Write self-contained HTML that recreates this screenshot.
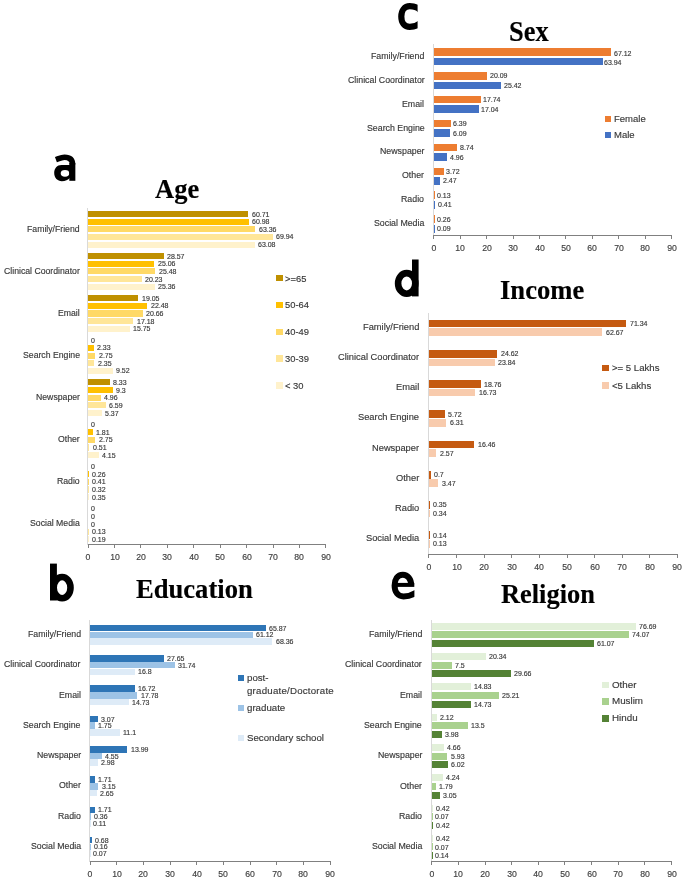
<!DOCTYPE html>
<html><head><meta charset="utf-8"><style>
html,body{margin:0;padding:0;background:#fff;}
body{width:685px;height:884px;position:relative;overflow:hidden;font-family:"Liberation Sans", sans-serif;}
.r{position:absolute;}
.t{position:absolute;white-space:nowrap;line-height:1;will-change:transform;-webkit-text-stroke:0.15px currentColor;}
#w{position:absolute;left:0;top:0;width:685px;height:884px;background:#fff;filter:blur(0.35px);}
</style></head><body><div id="w">
<div class="r" style="left:87.3px;top:208px;width:0.8px;height:336.6px;background:#d9d9d9"></div>
<div class="r" style="left:87.6px;top:544.1px;width:238.78px;height:1px;background:#808080"></div>
<div class="r" style="left:87.6px;top:544.6px;width:1px;height:3px;background:#808080"></div>
<div class="t" style="left:88.1px;top:552.91px;font-size:8.7px;color:#404040;transform:translateX(-50%);">0</div>
<div class="r" style="left:114.02px;top:544.6px;width:1px;height:3px;background:#808080"></div>
<div class="t" style="left:114.52px;top:552.91px;font-size:8.7px;color:#404040;transform:translateX(-50%);">10</div>
<div class="r" style="left:140.44px;top:544.6px;width:1px;height:3px;background:#808080"></div>
<div class="t" style="left:140.94px;top:552.91px;font-size:8.7px;color:#404040;transform:translateX(-50%);">20</div>
<div class="r" style="left:166.86px;top:544.6px;width:1px;height:3px;background:#808080"></div>
<div class="t" style="left:167.36px;top:552.91px;font-size:8.7px;color:#404040;transform:translateX(-50%);">30</div>
<div class="r" style="left:193.28px;top:544.6px;width:1px;height:3px;background:#808080"></div>
<div class="t" style="left:193.78px;top:552.91px;font-size:8.7px;color:#404040;transform:translateX(-50%);">40</div>
<div class="r" style="left:219.7px;top:544.6px;width:1px;height:3px;background:#808080"></div>
<div class="t" style="left:220.2px;top:552.91px;font-size:8.7px;color:#404040;transform:translateX(-50%);">50</div>
<div class="r" style="left:246.12px;top:544.6px;width:1px;height:3px;background:#808080"></div>
<div class="t" style="left:246.62px;top:552.91px;font-size:8.7px;color:#404040;transform:translateX(-50%);">60</div>
<div class="r" style="left:272.54px;top:544.6px;width:1px;height:3px;background:#808080"></div>
<div class="t" style="left:273.04px;top:552.91px;font-size:8.7px;color:#404040;transform:translateX(-50%);">70</div>
<div class="r" style="left:298.96px;top:544.6px;width:1px;height:3px;background:#808080"></div>
<div class="t" style="left:299.46px;top:552.91px;font-size:8.7px;color:#404040;transform:translateX(-50%);">80</div>
<div class="r" style="left:325.38px;top:544.6px;width:1px;height:3px;background:#808080"></div>
<div class="t" style="left:325.88px;top:552.91px;font-size:8.7px;color:#404040;transform:translateX(-50%);">90</div>
<div class="t" style="right:605.5px;top:224.51px;font-size:8.7px;color:#383838;text-align:right;">Family/Friend</div>
<div class="r" style="left:88.1px;top:210.9px;width:160.4px;height:6.2px;background:#BF9000"></div>
<div class="t" style="left:251.7px;top:210.53px;font-size:7px;color:#383838;transform:scaleX(1.0);transform-origin:0 0;">60.71</div>
<div class="r" style="left:88.1px;top:218.55px;width:161.11px;height:6.2px;background:#FFC000"></div>
<div class="t" style="left:252.41px;top:218.18px;font-size:7px;color:#383838;transform:scaleX(1.0);transform-origin:0 0;">60.98</div>
<div class="r" style="left:88.1px;top:226.2px;width:167.4px;height:6.2px;background:#FFD966"></div>
<div class="t" style="left:258.7px;top:225.83px;font-size:7px;color:#383838;transform:scaleX(1.0);transform-origin:0 0;">63.36</div>
<div class="r" style="left:88.1px;top:233.85px;width:184.78px;height:6.2px;background:#FFE699"></div>
<div class="t" style="left:276.08px;top:233.48px;font-size:7px;color:#383838;transform:scaleX(1.0);transform-origin:0 0;">69.94</div>
<div class="r" style="left:88.1px;top:241.5px;width:166.66px;height:6.2px;background:#FFF2CC"></div>
<div class="t" style="left:257.96px;top:241.13px;font-size:7px;color:#383838;transform:scaleX(1.0);transform-origin:0 0;">63.08</div>
<div class="t" style="right:605.5px;top:266.61px;font-size:8.7px;color:#383838;text-align:right;">Clinical Coordinator</div>
<div class="r" style="left:88.1px;top:253px;width:75.48px;height:6.2px;background:#BF9000"></div>
<div class="t" style="left:166.78px;top:252.63px;font-size:7px;color:#383838;transform:scaleX(1.0);transform-origin:0 0;">28.57</div>
<div class="r" style="left:88.1px;top:260.65px;width:66.21px;height:6.2px;background:#FFC000"></div>
<div class="t" style="left:157.51px;top:260.28px;font-size:7px;color:#383838;transform:scaleX(1.0);transform-origin:0 0;">25.06</div>
<div class="r" style="left:88.1px;top:268.3px;width:67.32px;height:6.2px;background:#FFD966"></div>
<div class="t" style="left:158.62px;top:267.93px;font-size:7px;color:#383838;transform:scaleX(1.0);transform-origin:0 0;">25.48</div>
<div class="r" style="left:88.1px;top:275.95px;width:53.45px;height:6.2px;background:#FFE699"></div>
<div class="t" style="left:144.75px;top:275.58px;font-size:7px;color:#383838;transform:scaleX(1.0);transform-origin:0 0;">20.23</div>
<div class="r" style="left:88.1px;top:283.6px;width:67px;height:6.2px;background:#FFF2CC"></div>
<div class="t" style="left:158.3px;top:283.23px;font-size:7px;color:#383838;transform:scaleX(1.0);transform-origin:0 0;">25.36</div>
<div class="t" style="right:605.5px;top:308.71px;font-size:8.7px;color:#383838;text-align:right;">Email</div>
<div class="r" style="left:88.1px;top:295.1px;width:50.33px;height:6.2px;background:#BF9000"></div>
<div class="t" style="left:141.63px;top:294.73px;font-size:7px;color:#383838;transform:scaleX(1.0);transform-origin:0 0;">19.05</div>
<div class="r" style="left:88.1px;top:302.75px;width:59.39px;height:6.2px;background:#FFC000"></div>
<div class="t" style="left:150.69px;top:302.38px;font-size:7px;color:#383838;transform:scaleX(1.0);transform-origin:0 0;">22.48</div>
<div class="r" style="left:88.1px;top:310.4px;width:54.58px;height:6.2px;background:#FFD966"></div>
<div class="t" style="left:145.88px;top:310.03px;font-size:7px;color:#383838;transform:scaleX(1.0);transform-origin:0 0;">20.66</div>
<div class="r" style="left:88.1px;top:318.05px;width:45.39px;height:6.2px;background:#FFE699"></div>
<div class="t" style="left:136.69px;top:317.68px;font-size:7px;color:#383838;transform:scaleX(1.0);transform-origin:0 0;">17.18</div>
<div class="r" style="left:88.1px;top:325.7px;width:41.61px;height:6.2px;background:#FFF2CC"></div>
<div class="t" style="left:132.91px;top:325.33px;font-size:7px;color:#383838;transform:scaleX(1.0);transform-origin:0 0;">15.75</div>
<div class="t" style="right:605.5px;top:350.81px;font-size:8.7px;color:#383838;text-align:right;">Search Engine</div>
<div class="t" style="left:91.3px;top:336.83px;font-size:7px;color:#383838;transform:scaleX(1.0);transform-origin:0 0;">0</div>
<div class="r" style="left:88.1px;top:344.85px;width:6.16px;height:6.2px;background:#FFC000"></div>
<div class="t" style="left:97.46px;top:344.48px;font-size:7px;color:#383838;transform:scaleX(1.0);transform-origin:0 0;">2.33</div>
<div class="r" style="left:88.1px;top:352.5px;width:7.27px;height:6.2px;background:#FFD966"></div>
<div class="t" style="left:98.57px;top:352.13px;font-size:7px;color:#383838;transform:scaleX(1.0);transform-origin:0 0;">2.75</div>
<div class="r" style="left:88.1px;top:360.15px;width:6.21px;height:6.2px;background:#FFE699"></div>
<div class="t" style="left:97.51px;top:359.78px;font-size:7px;color:#383838;transform:scaleX(1.0);transform-origin:0 0;">2.35</div>
<div class="r" style="left:88.1px;top:367.8px;width:25.15px;height:6.2px;background:#FFF2CC"></div>
<div class="t" style="left:116.45px;top:367.43px;font-size:7px;color:#383838;transform:scaleX(1.0);transform-origin:0 0;">9.52</div>
<div class="t" style="right:605.5px;top:392.91px;font-size:8.7px;color:#383838;text-align:right;">Newspaper</div>
<div class="r" style="left:88.1px;top:379.3px;width:22.01px;height:6.2px;background:#BF9000"></div>
<div class="t" style="left:113.31px;top:378.93px;font-size:7px;color:#383838;transform:scaleX(1.0);transform-origin:0 0;">8.33</div>
<div class="r" style="left:88.1px;top:386.95px;width:24.57px;height:6.2px;background:#FFC000"></div>
<div class="t" style="left:115.87px;top:386.58px;font-size:7px;color:#383838;transform:scaleX(1.0);transform-origin:0 0;">9.3</div>
<div class="r" style="left:88.1px;top:394.6px;width:13.1px;height:6.2px;background:#FFD966"></div>
<div class="t" style="left:104.4px;top:394.23px;font-size:7px;color:#383838;transform:scaleX(1.0);transform-origin:0 0;">4.96</div>
<div class="r" style="left:88.1px;top:402.25px;width:17.41px;height:6.2px;background:#FFE699"></div>
<div class="t" style="left:108.71px;top:401.88px;font-size:7px;color:#383838;transform:scaleX(1.0);transform-origin:0 0;">6.59</div>
<div class="r" style="left:88.1px;top:409.9px;width:14.19px;height:6.2px;background:#FFF2CC"></div>
<div class="t" style="left:105.49px;top:409.53px;font-size:7px;color:#383838;transform:scaleX(1.0);transform-origin:0 0;">5.37</div>
<div class="t" style="right:605.5px;top:435.01px;font-size:8.7px;color:#383838;text-align:right;">Other</div>
<div class="t" style="left:91.3px;top:421.03px;font-size:7px;color:#383838;transform:scaleX(1.0);transform-origin:0 0;">0</div>
<div class="r" style="left:88.1px;top:429.05px;width:4.78px;height:6.2px;background:#FFC000"></div>
<div class="t" style="left:96.08px;top:428.68px;font-size:7px;color:#383838;transform:scaleX(1.0);transform-origin:0 0;">1.81</div>
<div class="r" style="left:88.1px;top:436.7px;width:7.27px;height:6.2px;background:#FFD966"></div>
<div class="t" style="left:98.57px;top:436.33px;font-size:7px;color:#383838;transform:scaleX(1.0);transform-origin:0 0;">2.75</div>
<div class="r" style="left:88.1px;top:444.35px;width:1.35px;height:6.2px;background:#FFE699"></div>
<div class="t" style="left:92.65px;top:443.98px;font-size:7px;color:#383838;transform:scaleX(1.0);transform-origin:0 0;">0.51</div>
<div class="r" style="left:88.1px;top:452px;width:10.96px;height:6.2px;background:#FFF2CC"></div>
<div class="t" style="left:102.26px;top:451.63px;font-size:7px;color:#383838;transform:scaleX(1.0);transform-origin:0 0;">4.15</div>
<div class="t" style="right:605.5px;top:477.11px;font-size:8.7px;color:#383838;text-align:right;">Radio</div>
<div class="t" style="left:91.3px;top:463.13px;font-size:7px;color:#383838;transform:scaleX(1.0);transform-origin:0 0;">0</div>
<div class="r" style="left:88.1px;top:471.15px;width:0.69px;height:6.2px;background:#FFC000"></div>
<div class="t" style="left:91.99px;top:470.78px;font-size:7px;color:#383838;transform:scaleX(1.0);transform-origin:0 0;">0.26</div>
<div class="r" style="left:88.1px;top:478.8px;width:1.08px;height:6.2px;background:#FFD966"></div>
<div class="t" style="left:92.38px;top:478.43px;font-size:7px;color:#383838;transform:scaleX(1.0);transform-origin:0 0;">0.41</div>
<div class="r" style="left:88.1px;top:486.45px;width:0.85px;height:6.2px;background:#FFE699"></div>
<div class="t" style="left:92.15px;top:486.08px;font-size:7px;color:#383838;transform:scaleX(1.0);transform-origin:0 0;">0.32</div>
<div class="r" style="left:88.1px;top:494.1px;width:0.92px;height:6.2px;background:#FFF2CC"></div>
<div class="t" style="left:92.22px;top:493.73px;font-size:7px;color:#383838;transform:scaleX(1.0);transform-origin:0 0;">0.35</div>
<div class="t" style="right:605.5px;top:519.21px;font-size:8.7px;color:#383838;text-align:right;">Social Media</div>
<div class="t" style="left:91.3px;top:505.23px;font-size:7px;color:#383838;transform:scaleX(1.0);transform-origin:0 0;">0</div>
<div class="t" style="left:91.3px;top:512.88px;font-size:7px;color:#383838;transform:scaleX(1.0);transform-origin:0 0;">0</div>
<div class="t" style="left:91.3px;top:520.53px;font-size:7px;color:#383838;transform:scaleX(1.0);transform-origin:0 0;">0</div>
<div class="r" style="left:88.1px;top:528.55px;width:0.34px;height:6.2px;background:#FFE699"></div>
<div class="t" style="left:91.64px;top:528.18px;font-size:7px;color:#383838;transform:scaleX(1.0);transform-origin:0 0;">0.13</div>
<div class="r" style="left:88.1px;top:536.2px;width:0.5px;height:6.2px;background:#FFF2CC"></div>
<div class="t" style="left:91.8px;top:535.83px;font-size:7px;color:#383838;transform:scaleX(1.0);transform-origin:0 0;">0.19</div>
<div class="r" style="left:276.2px;top:274.8px;width:6.6px;height:6.6px;background:#BF9000"></div>
<div class="t" style="left:285.4px;top:273.57px;font-size:9.4px;color:#383838;">&gt;=65</div>
<div class="r" style="left:276.2px;top:301.7px;width:6.6px;height:6.6px;background:#FFC000"></div>
<div class="t" style="left:285.4px;top:300.47px;font-size:9.4px;color:#383838;">50-64</div>
<div class="r" style="left:276.2px;top:328.6px;width:6.6px;height:6.6px;background:#FFD966"></div>
<div class="t" style="left:285.4px;top:327.37px;font-size:9.4px;color:#383838;">40-49</div>
<div class="r" style="left:276.2px;top:355.1px;width:6.6px;height:6.6px;background:#FFE699"></div>
<div class="t" style="left:285.4px;top:353.87px;font-size:9.4px;color:#383838;">30-39</div>
<div class="r" style="left:276.2px;top:382px;width:6.6px;height:6.6px;background:#FFF2CC"></div>
<div class="t" style="left:285.4px;top:380.77px;font-size:9.4px;color:#383838;">&lt; 30</div>
<div class="r" style="left:89.2px;top:619.7px;width:0.8px;height:242px;background:#d9d9d9"></div>
<div class="r" style="left:89.5px;top:861.2px;width:241.03px;height:1px;background:#808080"></div>
<div class="r" style="left:89.5px;top:861.7px;width:1px;height:3px;background:#808080"></div>
<div class="t" style="left:90px;top:870.11px;font-size:8.7px;color:#404040;transform:translateX(-50%);">0</div>
<div class="r" style="left:116.17px;top:861.7px;width:1px;height:3px;background:#808080"></div>
<div class="t" style="left:116.67px;top:870.11px;font-size:8.7px;color:#404040;transform:translateX(-50%);">10</div>
<div class="r" style="left:142.84px;top:861.7px;width:1px;height:3px;background:#808080"></div>
<div class="t" style="left:143.34px;top:870.11px;font-size:8.7px;color:#404040;transform:translateX(-50%);">20</div>
<div class="r" style="left:169.51px;top:861.7px;width:1px;height:3px;background:#808080"></div>
<div class="t" style="left:170.01px;top:870.11px;font-size:8.7px;color:#404040;transform:translateX(-50%);">30</div>
<div class="r" style="left:196.18px;top:861.7px;width:1px;height:3px;background:#808080"></div>
<div class="t" style="left:196.68px;top:870.11px;font-size:8.7px;color:#404040;transform:translateX(-50%);">40</div>
<div class="r" style="left:222.85px;top:861.7px;width:1px;height:3px;background:#808080"></div>
<div class="t" style="left:223.35px;top:870.11px;font-size:8.7px;color:#404040;transform:translateX(-50%);">50</div>
<div class="r" style="left:249.52px;top:861.7px;width:1px;height:3px;background:#808080"></div>
<div class="t" style="left:250.02px;top:870.11px;font-size:8.7px;color:#404040;transform:translateX(-50%);">60</div>
<div class="r" style="left:276.19px;top:861.7px;width:1px;height:3px;background:#808080"></div>
<div class="t" style="left:276.69px;top:870.11px;font-size:8.7px;color:#404040;transform:translateX(-50%);">70</div>
<div class="r" style="left:302.86px;top:861.7px;width:1px;height:3px;background:#808080"></div>
<div class="t" style="left:303.36px;top:870.11px;font-size:8.7px;color:#404040;transform:translateX(-50%);">80</div>
<div class="r" style="left:329.53px;top:861.7px;width:1px;height:3px;background:#808080"></div>
<div class="t" style="left:330.03px;top:870.11px;font-size:8.7px;color:#404040;transform:translateX(-50%);">90</div>
<div class="t" style="right:604.2px;top:630.03px;font-size:8.75px;color:#383838;text-align:right;">Family/Friend</div>
<div class="r" style="left:90px;top:624.9px;width:175.68px;height:6.5px;background:#2E75B6"></div>
<div class="t" style="left:268.88px;top:624.68px;font-size:7px;color:#383838;transform:scaleX(1.0);transform-origin:0 0;">65.87</div>
<div class="r" style="left:90px;top:631.6px;width:163.01px;height:6.5px;background:#9DC3E6"></div>
<div class="t" style="left:256.21px;top:631.38px;font-size:7px;color:#383838;transform:scaleX(1.0);transform-origin:0 0;">61.12</div>
<div class="r" style="left:90px;top:638.3px;width:182.32px;height:6.5px;background:#DEEBF7"></div>
<div class="t" style="left:275.52px;top:638.08px;font-size:7px;color:#383838;transform:scaleX(1.0);transform-origin:0 0;">68.36</div>
<div class="t" style="right:604.2px;top:660.32px;font-size:8.75px;color:#383838;text-align:right;">Clinical Coordinator</div>
<div class="r" style="left:90px;top:655.19px;width:73.74px;height:6.5px;background:#2E75B6"></div>
<div class="t" style="left:166.94px;top:654.97px;font-size:7px;color:#383838;transform:scaleX(1.0);transform-origin:0 0;">27.65</div>
<div class="r" style="left:90px;top:661.89px;width:84.65px;height:6.5px;background:#9DC3E6"></div>
<div class="t" style="left:177.85px;top:661.67px;font-size:7px;color:#383838;transform:scaleX(1.0);transform-origin:0 0;">31.74</div>
<div class="r" style="left:90px;top:668.59px;width:44.81px;height:6.5px;background:#DEEBF7"></div>
<div class="t" style="left:138.01px;top:668.37px;font-size:7px;color:#383838;transform:scaleX(1.0);transform-origin:0 0;">16.8</div>
<div class="t" style="right:604.2px;top:690.61px;font-size:8.75px;color:#383838;text-align:right;">Email</div>
<div class="r" style="left:90px;top:685.48px;width:44.59px;height:6.5px;background:#2E75B6"></div>
<div class="t" style="left:137.79px;top:685.26px;font-size:7px;color:#383838;transform:scaleX(1.0);transform-origin:0 0;">16.72</div>
<div class="r" style="left:90px;top:692.18px;width:47.42px;height:6.5px;background:#9DC3E6"></div>
<div class="t" style="left:140.62px;top:691.96px;font-size:7px;color:#383838;transform:scaleX(1.0);transform-origin:0 0;">17.78</div>
<div class="r" style="left:90px;top:698.88px;width:39.28px;height:6.5px;background:#DEEBF7"></div>
<div class="t" style="left:132.48px;top:698.66px;font-size:7px;color:#383838;transform:scaleX(1.0);transform-origin:0 0;">14.73</div>
<div class="t" style="right:604.2px;top:720.9px;font-size:8.75px;color:#383838;text-align:right;">Search Engine</div>
<div class="r" style="left:90px;top:715.77px;width:8.19px;height:6.5px;background:#2E75B6"></div>
<div class="t" style="left:101.39px;top:715.55px;font-size:7px;color:#383838;transform:scaleX(1.0);transform-origin:0 0;">3.07</div>
<div class="r" style="left:90px;top:722.47px;width:4.67px;height:6.5px;background:#9DC3E6"></div>
<div class="t" style="left:97.87px;top:722.25px;font-size:7px;color:#383838;transform:scaleX(1.0);transform-origin:0 0;">1.75</div>
<div class="r" style="left:90px;top:729.17px;width:29.6px;height:6.5px;background:#DEEBF7"></div>
<div class="t" style="left:122.8px;top:728.95px;font-size:7px;color:#383838;transform:scaleX(1.0);transform-origin:0 0;">11.1</div>
<div class="t" style="right:604.2px;top:751.19px;font-size:8.75px;color:#383838;text-align:right;">Newspaper</div>
<div class="r" style="left:90px;top:746.06px;width:37.31px;height:6.5px;background:#2E75B6"></div>
<div class="t" style="left:130.51px;top:745.84px;font-size:7px;color:#383838;transform:scaleX(1.0);transform-origin:0 0;">13.99</div>
<div class="r" style="left:90px;top:752.76px;width:12.13px;height:6.5px;background:#9DC3E6"></div>
<div class="t" style="left:105.33px;top:752.54px;font-size:7px;color:#383838;transform:scaleX(1.0);transform-origin:0 0;">4.55</div>
<div class="r" style="left:90px;top:759.46px;width:7.95px;height:6.5px;background:#DEEBF7"></div>
<div class="t" style="left:101.15px;top:759.24px;font-size:7px;color:#383838;transform:scaleX(1.0);transform-origin:0 0;">2.98</div>
<div class="t" style="right:604.2px;top:781.48px;font-size:8.75px;color:#383838;text-align:right;">Other</div>
<div class="r" style="left:90px;top:776.35px;width:4.56px;height:6.5px;background:#2E75B6"></div>
<div class="t" style="left:97.76px;top:776.13px;font-size:7px;color:#383838;transform:scaleX(1.0);transform-origin:0 0;">1.71</div>
<div class="r" style="left:90px;top:783.05px;width:8.4px;height:6.5px;background:#9DC3E6"></div>
<div class="t" style="left:101.6px;top:782.83px;font-size:7px;color:#383838;transform:scaleX(1.0);transform-origin:0 0;">3.15</div>
<div class="r" style="left:90px;top:789.75px;width:7.07px;height:6.5px;background:#DEEBF7"></div>
<div class="t" style="left:100.27px;top:789.53px;font-size:7px;color:#383838;transform:scaleX(1.0);transform-origin:0 0;">2.65</div>
<div class="t" style="right:604.2px;top:811.77px;font-size:8.75px;color:#383838;text-align:right;">Radio</div>
<div class="r" style="left:90px;top:806.64px;width:4.56px;height:6.5px;background:#2E75B6"></div>
<div class="t" style="left:97.76px;top:806.42px;font-size:7px;color:#383838;transform:scaleX(1.0);transform-origin:0 0;">1.71</div>
<div class="r" style="left:90px;top:813.34px;width:0.96px;height:6.5px;background:#9DC3E6"></div>
<div class="t" style="left:94.16px;top:813.12px;font-size:7px;color:#383838;transform:scaleX(1.0);transform-origin:0 0;">0.36</div>
<div class="r" style="left:90px;top:820.04px;width:0.29px;height:6.5px;background:#DEEBF7"></div>
<div class="t" style="left:93.49px;top:819.82px;font-size:7px;color:#383838;transform:scaleX(1.0);transform-origin:0 0;">0.11</div>
<div class="t" style="right:604.2px;top:842.06px;font-size:8.75px;color:#383838;text-align:right;">Social Media</div>
<div class="r" style="left:90px;top:836.93px;width:1.81px;height:6.5px;background:#2E75B6"></div>
<div class="t" style="left:95.01px;top:836.71px;font-size:7px;color:#383838;transform:scaleX(1.0);transform-origin:0 0;">0.68</div>
<div class="r" style="left:90px;top:843.63px;width:0.43px;height:6.5px;background:#9DC3E6"></div>
<div class="t" style="left:93.63px;top:843.41px;font-size:7px;color:#383838;transform:scaleX(1.0);transform-origin:0 0;">0.16</div>
<div class="r" style="left:90px;top:850.33px;width:0.19px;height:6.5px;background:#DEEBF7"></div>
<div class="t" style="left:93.39px;top:850.11px;font-size:7px;color:#383838;transform:scaleX(1.0);transform-origin:0 0;">0.07</div>
<div class="r" style="left:238.1px;top:674.8px;width:6px;height:6px;background:#2E75B6"></div>
<div class="t" style="left:247px;top:672.82px;font-size:9.7px;color:#383838;">post-</div>
<div class="t" style="left:247px;top:685.92px;font-size:9.7px;color:#383838;letter-spacing:0.22px;">graduate/Doctorate</div>
<div class="r" style="left:238.1px;top:705px;width:6px;height:6px;background:#9DC3E6"></div>
<div class="t" style="left:247px;top:702.52px;font-size:9.7px;color:#383838;">graduate</div>
<div class="r" style="left:238.1px;top:734.5px;width:6px;height:6px;background:#DEEBF7"></div>
<div class="t" style="left:247px;top:732.62px;font-size:9.7px;color:#383838;">Secondary school</div>
<div class="r" style="left:433.1px;top:44.4px;width:0.8px;height:191.5px;background:#d9d9d9"></div>
<div class="r" style="left:433.4px;top:235.4px;width:238.6px;height:1px;background:#808080"></div>
<div class="r" style="left:433.4px;top:235.9px;width:1px;height:3px;background:#808080"></div>
<div class="t" style="left:433.9px;top:244.11px;font-size:8.7px;color:#404040;transform:translateX(-50%);">0</div>
<div class="r" style="left:459.8px;top:235.9px;width:1px;height:3px;background:#808080"></div>
<div class="t" style="left:460.3px;top:244.11px;font-size:8.7px;color:#404040;transform:translateX(-50%);">10</div>
<div class="r" style="left:486.2px;top:235.9px;width:1px;height:3px;background:#808080"></div>
<div class="t" style="left:486.7px;top:244.11px;font-size:8.7px;color:#404040;transform:translateX(-50%);">20</div>
<div class="r" style="left:512.6px;top:235.9px;width:1px;height:3px;background:#808080"></div>
<div class="t" style="left:513.1px;top:244.11px;font-size:8.7px;color:#404040;transform:translateX(-50%);">30</div>
<div class="r" style="left:539px;top:235.9px;width:1px;height:3px;background:#808080"></div>
<div class="t" style="left:539.5px;top:244.11px;font-size:8.7px;color:#404040;transform:translateX(-50%);">40</div>
<div class="r" style="left:565.4px;top:235.9px;width:1px;height:3px;background:#808080"></div>
<div class="t" style="left:565.9px;top:244.11px;font-size:8.7px;color:#404040;transform:translateX(-50%);">50</div>
<div class="r" style="left:591.8px;top:235.9px;width:1px;height:3px;background:#808080"></div>
<div class="t" style="left:592.3px;top:244.11px;font-size:8.7px;color:#404040;transform:translateX(-50%);">60</div>
<div class="r" style="left:618.2px;top:235.9px;width:1px;height:3px;background:#808080"></div>
<div class="t" style="left:618.7px;top:244.11px;font-size:8.7px;color:#404040;transform:translateX(-50%);">70</div>
<div class="r" style="left:644.6px;top:235.9px;width:1px;height:3px;background:#808080"></div>
<div class="t" style="left:645.1px;top:244.11px;font-size:8.7px;color:#404040;transform:translateX(-50%);">80</div>
<div class="r" style="left:671px;top:235.9px;width:1px;height:3px;background:#808080"></div>
<div class="t" style="left:671.5px;top:244.11px;font-size:8.7px;color:#404040;transform:translateX(-50%);">90</div>
<div class="t" style="right:260.7px;top:51.81px;font-size:8.8px;color:#383838;text-align:right;">Family/Friend</div>
<div class="r" style="left:433.9px;top:48px;width:177.2px;height:7.7px;background:#ED7D31"></div>
<div class="t" style="left:614.1px;top:49.58px;font-size:7px;color:#383838;transform:scaleX(1.0);transform-origin:0 0;">67.12</div>
<div class="r" style="left:433.9px;top:57.6px;width:168.8px;height:7.7px;background:#4472C4"></div>
<div class="t" style="left:603.8px;top:59.28px;font-size:7px;color:#383838;transform:scaleX(1.0);transform-origin:0 0;">63.94</div>
<div class="t" style="right:260.7px;top:75.71px;font-size:8.8px;color:#383838;text-align:right;">Clinical Coordinator</div>
<div class="r" style="left:433.9px;top:71.9px;width:53.04px;height:7.7px;background:#ED7D31"></div>
<div class="t" style="left:489.54px;top:72.28px;font-size:7px;color:#383838;transform:scaleX(1.0);transform-origin:0 0;">20.09</div>
<div class="r" style="left:433.9px;top:81.5px;width:67.11px;height:7.7px;background:#4472C4"></div>
<div class="t" style="left:503.61px;top:81.88px;font-size:7px;color:#383838;transform:scaleX(1.0);transform-origin:0 0;">25.42</div>
<div class="t" style="right:260.7px;top:99.61px;font-size:8.8px;color:#383838;text-align:right;">Email</div>
<div class="r" style="left:433.9px;top:95.8px;width:46.83px;height:7.7px;background:#ED7D31"></div>
<div class="t" style="left:483.33px;top:96.18px;font-size:7px;color:#383838;transform:scaleX(1.0);transform-origin:0 0;">17.74</div>
<div class="r" style="left:433.9px;top:105.4px;width:44.99px;height:7.7px;background:#4472C4"></div>
<div class="t" style="left:481.49px;top:105.78px;font-size:7px;color:#383838;transform:scaleX(1.0);transform-origin:0 0;">17.04</div>
<div class="t" style="right:260.7px;top:123.51px;font-size:8.8px;color:#383838;text-align:right;">Search Engine</div>
<div class="r" style="left:433.9px;top:119.7px;width:16.87px;height:7.7px;background:#ED7D31"></div>
<div class="t" style="left:453.37px;top:120.08px;font-size:7px;color:#383838;transform:scaleX(1.0);transform-origin:0 0;">6.39</div>
<div class="r" style="left:433.9px;top:129.3px;width:16.08px;height:7.7px;background:#4472C4"></div>
<div class="t" style="left:452.58px;top:129.68px;font-size:7px;color:#383838;transform:scaleX(1.0);transform-origin:0 0;">6.09</div>
<div class="t" style="right:260.7px;top:147.41px;font-size:8.8px;color:#383838;text-align:right;">Newspaper</div>
<div class="r" style="left:433.9px;top:143.6px;width:23.07px;height:7.7px;background:#ED7D31"></div>
<div class="t" style="left:459.57px;top:143.98px;font-size:7px;color:#383838;transform:scaleX(1.0);transform-origin:0 0;">8.74</div>
<div class="r" style="left:433.9px;top:153.2px;width:13.09px;height:7.7px;background:#4472C4"></div>
<div class="t" style="left:449.59px;top:153.58px;font-size:7px;color:#383838;transform:scaleX(1.0);transform-origin:0 0;">4.96</div>
<div class="t" style="right:260.7px;top:171.31px;font-size:8.8px;color:#383838;text-align:right;">Other</div>
<div class="r" style="left:433.9px;top:167.5px;width:9.82px;height:7.7px;background:#ED7D31"></div>
<div class="t" style="left:446.32px;top:167.88px;font-size:7px;color:#383838;transform:scaleX(1.0);transform-origin:0 0;">3.72</div>
<div class="r" style="left:433.9px;top:177.1px;width:6.52px;height:7.7px;background:#4472C4"></div>
<div class="t" style="left:443.02px;top:177.48px;font-size:7px;color:#383838;transform:scaleX(1.0);transform-origin:0 0;">2.47</div>
<div class="t" style="right:260.7px;top:195.21px;font-size:8.8px;color:#383838;text-align:right;">Radio</div>
<div class="r" style="left:433.9px;top:191.4px;width:0.34px;height:7.7px;background:#ED7D31"></div>
<div class="t" style="left:436.84px;top:191.78px;font-size:7px;color:#383838;transform:scaleX(1.0);transform-origin:0 0;">0.13</div>
<div class="r" style="left:433.9px;top:201px;width:1.08px;height:7.7px;background:#4472C4"></div>
<div class="t" style="left:437.58px;top:201.38px;font-size:7px;color:#383838;transform:scaleX(1.0);transform-origin:0 0;">0.41</div>
<div class="t" style="right:260.7px;top:219.11px;font-size:8.8px;color:#383838;text-align:right;">Social Media</div>
<div class="r" style="left:433.9px;top:215.3px;width:0.69px;height:7.7px;background:#ED7D31"></div>
<div class="t" style="left:437.19px;top:215.68px;font-size:7px;color:#383838;transform:scaleX(1.0);transform-origin:0 0;">0.26</div>
<div class="r" style="left:433.9px;top:224.9px;width:0.24px;height:7.7px;background:#4472C4"></div>
<div class="t" style="left:436.74px;top:225.28px;font-size:7px;color:#383838;transform:scaleX(1.0);transform-origin:0 0;">0.09</div>
<div class="r" style="left:604.9px;top:116.3px;width:6px;height:6px;background:#ED7D31"></div>
<div class="t" style="left:613.8px;top:114.12px;font-size:9.5px;color:#383838;">Female</div>
<div class="r" style="left:604.9px;top:132px;width:6px;height:6px;background:#4472C4"></div>
<div class="t" style="left:613.8px;top:129.92px;font-size:9.5px;color:#383838;">Male</div>
<div class="r" style="left:428.1px;top:313.1px;width:0.8px;height:241.7px;background:#d9d9d9"></div>
<div class="r" style="left:428.4px;top:554.3px;width:249.58px;height:1px;background:#808080"></div>
<div class="r" style="left:428.4px;top:554.8px;width:1px;height:3px;background:#808080"></div>
<div class="t" style="left:428.9px;top:563.41px;font-size:8.7px;color:#404040;transform:translateX(-50%);">0</div>
<div class="r" style="left:456.02px;top:554.8px;width:1px;height:3px;background:#808080"></div>
<div class="t" style="left:456.52px;top:563.41px;font-size:8.7px;color:#404040;transform:translateX(-50%);">10</div>
<div class="r" style="left:483.64px;top:554.8px;width:1px;height:3px;background:#808080"></div>
<div class="t" style="left:484.14px;top:563.41px;font-size:8.7px;color:#404040;transform:translateX(-50%);">20</div>
<div class="r" style="left:511.26px;top:554.8px;width:1px;height:3px;background:#808080"></div>
<div class="t" style="left:511.76px;top:563.41px;font-size:8.7px;color:#404040;transform:translateX(-50%);">30</div>
<div class="r" style="left:538.88px;top:554.8px;width:1px;height:3px;background:#808080"></div>
<div class="t" style="left:539.38px;top:563.41px;font-size:8.7px;color:#404040;transform:translateX(-50%);">40</div>
<div class="r" style="left:566.5px;top:554.8px;width:1px;height:3px;background:#808080"></div>
<div class="t" style="left:567px;top:563.41px;font-size:8.7px;color:#404040;transform:translateX(-50%);">50</div>
<div class="r" style="left:594.12px;top:554.8px;width:1px;height:3px;background:#808080"></div>
<div class="t" style="left:594.62px;top:563.41px;font-size:8.7px;color:#404040;transform:translateX(-50%);">60</div>
<div class="r" style="left:621.74px;top:554.8px;width:1px;height:3px;background:#808080"></div>
<div class="t" style="left:622.24px;top:563.41px;font-size:8.7px;color:#404040;transform:translateX(-50%);">70</div>
<div class="r" style="left:649.36px;top:554.8px;width:1px;height:3px;background:#808080"></div>
<div class="t" style="left:649.86px;top:563.41px;font-size:8.7px;color:#404040;transform:translateX(-50%);">80</div>
<div class="r" style="left:676.98px;top:554.8px;width:1px;height:3px;background:#808080"></div>
<div class="t" style="left:677.48px;top:563.41px;font-size:8.7px;color:#404040;transform:translateX(-50%);">90</div>
<div class="t" style="right:266px;top:322.77px;font-size:9.3px;color:#383838;text-align:right;">Family/Friend</div>
<div class="r" style="left:428.9px;top:319.7px;width:197.04px;height:7.7px;background:#C55A11"></div>
<div class="t" style="left:629.54px;top:320.08px;font-size:7px;color:#383838;transform:scaleX(1.0);transform-origin:0 0;">71.34</div>
<div class="r" style="left:428.9px;top:328.3px;width:173.09px;height:7.7px;background:#F8CBAD"></div>
<div class="t" style="left:605.59px;top:328.68px;font-size:7px;color:#383838;transform:scaleX(1.0);transform-origin:0 0;">62.67</div>
<div class="t" style="right:266px;top:353px;font-size:9.3px;color:#383838;text-align:right;">Clinical Coordinator</div>
<div class="r" style="left:428.9px;top:349.93px;width:68px;height:7.7px;background:#C55A11"></div>
<div class="t" style="left:500.5px;top:350.31px;font-size:7px;color:#383838;transform:scaleX(1.0);transform-origin:0 0;">24.62</div>
<div class="r" style="left:428.9px;top:358.53px;width:65.85px;height:7.7px;background:#F8CBAD"></div>
<div class="t" style="left:498.35px;top:358.91px;font-size:7px;color:#383838;transform:scaleX(1.0);transform-origin:0 0;">23.84</div>
<div class="t" style="right:266px;top:383.23px;font-size:9.3px;color:#383838;text-align:right;">Email</div>
<div class="r" style="left:428.9px;top:380.16px;width:51.82px;height:7.7px;background:#C55A11"></div>
<div class="t" style="left:484.32px;top:380.54px;font-size:7px;color:#383838;transform:scaleX(1.0);transform-origin:0 0;">18.76</div>
<div class="r" style="left:428.9px;top:388.76px;width:46.21px;height:7.7px;background:#F8CBAD"></div>
<div class="t" style="left:478.71px;top:389.14px;font-size:7px;color:#383838;transform:scaleX(1.0);transform-origin:0 0;">16.73</div>
<div class="t" style="right:266px;top:413.46px;font-size:9.3px;color:#383838;text-align:right;">Search Engine</div>
<div class="r" style="left:428.9px;top:410.39px;width:15.8px;height:7.7px;background:#C55A11"></div>
<div class="t" style="left:448.3px;top:410.77px;font-size:7px;color:#383838;transform:scaleX(1.0);transform-origin:0 0;">5.72</div>
<div class="r" style="left:428.9px;top:418.99px;width:17.43px;height:7.7px;background:#F8CBAD"></div>
<div class="t" style="left:449.93px;top:419.37px;font-size:7px;color:#383838;transform:scaleX(1.0);transform-origin:0 0;">6.31</div>
<div class="t" style="right:266px;top:443.69px;font-size:9.3px;color:#383838;text-align:right;">Newspaper</div>
<div class="r" style="left:428.9px;top:440.62px;width:45.46px;height:7.7px;background:#C55A11"></div>
<div class="t" style="left:477.96px;top:441px;font-size:7px;color:#383838;transform:scaleX(1.0);transform-origin:0 0;">16.46</div>
<div class="r" style="left:428.9px;top:449.22px;width:7.1px;height:7.7px;background:#F8CBAD"></div>
<div class="t" style="left:439.6px;top:449.6px;font-size:7px;color:#383838;transform:scaleX(1.0);transform-origin:0 0;">2.57</div>
<div class="t" style="right:266px;top:473.92px;font-size:9.3px;color:#383838;text-align:right;">Other</div>
<div class="r" style="left:428.9px;top:470.85px;width:1.93px;height:7.7px;background:#C55A11"></div>
<div class="t" style="left:434.43px;top:471.23px;font-size:7px;color:#383838;transform:scaleX(1.0);transform-origin:0 0;">0.7</div>
<div class="r" style="left:428.9px;top:479.45px;width:9.58px;height:7.7px;background:#F8CBAD"></div>
<div class="t" style="left:442.08px;top:479.83px;font-size:7px;color:#383838;transform:scaleX(1.0);transform-origin:0 0;">3.47</div>
<div class="t" style="right:266px;top:504.15px;font-size:9.3px;color:#383838;text-align:right;">Radio</div>
<div class="r" style="left:428.9px;top:501.08px;width:0.97px;height:7.7px;background:#C55A11"></div>
<div class="t" style="left:433.47px;top:501.46px;font-size:7px;color:#383838;transform:scaleX(1.0);transform-origin:0 0;">0.35</div>
<div class="r" style="left:428.9px;top:509.68px;width:0.94px;height:7.7px;background:#F8CBAD"></div>
<div class="t" style="left:433.44px;top:510.06px;font-size:7px;color:#383838;transform:scaleX(1.0);transform-origin:0 0;">0.34</div>
<div class="t" style="right:266px;top:534.38px;font-size:9.3px;color:#383838;text-align:right;">Social Media</div>
<div class="r" style="left:428.9px;top:531.31px;width:0.39px;height:7.7px;background:#C55A11"></div>
<div class="t" style="left:432.89px;top:531.69px;font-size:7px;color:#383838;transform:scaleX(1.0);transform-origin:0 0;">0.14</div>
<div class="r" style="left:428.9px;top:539.91px;width:0.36px;height:7.7px;background:#F8CBAD"></div>
<div class="t" style="left:432.86px;top:540.29px;font-size:7px;color:#383838;transform:scaleX(1.0);transform-origin:0 0;">0.13</div>
<div class="r" style="left:602.2px;top:364.95px;width:6.5px;height:6.5px;background:#C55A11"></div>
<div class="t" style="left:611.7px;top:363.27px;font-size:9.6px;color:#383838;">&gt;= 5 Lakhs</div>
<div class="r" style="left:602.2px;top:382.35px;width:6.5px;height:6.5px;background:#F8CBAD"></div>
<div class="t" style="left:611.7px;top:380.67px;font-size:9.6px;color:#383838;">&lt;5 Lakhs</div>
<div class="r" style="left:430.9px;top:619.7px;width:0.8px;height:242px;background:#d9d9d9"></div>
<div class="r" style="left:431.2px;top:861.2px;width:240.85px;height:1px;background:#808080"></div>
<div class="r" style="left:431.2px;top:861.7px;width:1px;height:3px;background:#808080"></div>
<div class="t" style="left:431.7px;top:869.71px;font-size:8.7px;color:#404040;transform:translateX(-50%);">0</div>
<div class="r" style="left:457.85px;top:861.7px;width:1px;height:3px;background:#808080"></div>
<div class="t" style="left:458.35px;top:869.71px;font-size:8.7px;color:#404040;transform:translateX(-50%);">10</div>
<div class="r" style="left:484.5px;top:861.7px;width:1px;height:3px;background:#808080"></div>
<div class="t" style="left:485px;top:869.71px;font-size:8.7px;color:#404040;transform:translateX(-50%);">20</div>
<div class="r" style="left:511.15px;top:861.7px;width:1px;height:3px;background:#808080"></div>
<div class="t" style="left:511.65px;top:869.71px;font-size:8.7px;color:#404040;transform:translateX(-50%);">30</div>
<div class="r" style="left:537.8px;top:861.7px;width:1px;height:3px;background:#808080"></div>
<div class="t" style="left:538.3px;top:869.71px;font-size:8.7px;color:#404040;transform:translateX(-50%);">40</div>
<div class="r" style="left:564.45px;top:861.7px;width:1px;height:3px;background:#808080"></div>
<div class="t" style="left:564.95px;top:869.71px;font-size:8.7px;color:#404040;transform:translateX(-50%);">50</div>
<div class="r" style="left:591.1px;top:861.7px;width:1px;height:3px;background:#808080"></div>
<div class="t" style="left:591.6px;top:869.71px;font-size:8.7px;color:#404040;transform:translateX(-50%);">60</div>
<div class="r" style="left:617.75px;top:861.7px;width:1px;height:3px;background:#808080"></div>
<div class="t" style="left:618.25px;top:869.71px;font-size:8.7px;color:#404040;transform:translateX(-50%);">70</div>
<div class="r" style="left:644.4px;top:861.7px;width:1px;height:3px;background:#808080"></div>
<div class="t" style="left:644.9px;top:869.71px;font-size:8.7px;color:#404040;transform:translateX(-50%);">80</div>
<div class="r" style="left:671.05px;top:861.7px;width:1px;height:3px;background:#808080"></div>
<div class="t" style="left:671.55px;top:869.71px;font-size:8.7px;color:#404040;transform:translateX(-50%);">90</div>
<div class="t" style="right:263px;top:630.11px;font-size:8.8px;color:#383838;text-align:right;">Family/Friend</div>
<div class="r" style="left:431.7px;top:622.8px;width:204.38px;height:7px;background:#E2F0D9"></div>
<div class="t" style="left:639.08px;top:622.83px;font-size:7px;color:#383838;transform:scaleX(1.0);transform-origin:0 0;">76.69</div>
<div class="r" style="left:431.7px;top:631.45px;width:197.4px;height:7px;background:#A9D18E"></div>
<div class="t" style="left:632.1px;top:631.48px;font-size:7px;color:#383838;transform:scaleX(1.0);transform-origin:0 0;">74.07</div>
<div class="r" style="left:431.7px;top:640.1px;width:162.75px;height:7px;background:#548235"></div>
<div class="t" style="left:597.45px;top:640.13px;font-size:7px;color:#383838;transform:scaleX(1.0);transform-origin:0 0;">61.07</div>
<div class="t" style="right:263px;top:660.4px;font-size:8.8px;color:#383838;text-align:right;">Clinical Coordinator</div>
<div class="r" style="left:431.7px;top:653.09px;width:54.21px;height:7px;background:#E2F0D9"></div>
<div class="t" style="left:488.91px;top:653.12px;font-size:7px;color:#383838;transform:scaleX(1.0);transform-origin:0 0;">20.34</div>
<div class="r" style="left:431.7px;top:661.74px;width:19.99px;height:7px;background:#A9D18E"></div>
<div class="t" style="left:454.69px;top:661.77px;font-size:7px;color:#383838;transform:scaleX(1.0);transform-origin:0 0;">7.5</div>
<div class="r" style="left:431.7px;top:670.39px;width:79.04px;height:7px;background:#548235"></div>
<div class="t" style="left:513.74px;top:670.42px;font-size:7px;color:#383838;transform:scaleX(1.0);transform-origin:0 0;">29.66</div>
<div class="t" style="right:263px;top:690.69px;font-size:8.8px;color:#383838;text-align:right;">Email</div>
<div class="r" style="left:431.7px;top:683.38px;width:39.52px;height:7px;background:#E2F0D9"></div>
<div class="t" style="left:474.22px;top:683.41px;font-size:7px;color:#383838;transform:scaleX(1.0);transform-origin:0 0;">14.83</div>
<div class="r" style="left:431.7px;top:692.03px;width:67.18px;height:7px;background:#A9D18E"></div>
<div class="t" style="left:501.88px;top:692.06px;font-size:7px;color:#383838;transform:scaleX(1.0);transform-origin:0 0;">25.21</div>
<div class="r" style="left:431.7px;top:700.68px;width:39.26px;height:7px;background:#548235"></div>
<div class="t" style="left:473.96px;top:700.71px;font-size:7px;color:#383838;transform:scaleX(1.0);transform-origin:0 0;">14.73</div>
<div class="t" style="right:263px;top:720.98px;font-size:8.8px;color:#383838;text-align:right;">Search Engine</div>
<div class="r" style="left:431.7px;top:713.67px;width:5.65px;height:7px;background:#E2F0D9"></div>
<div class="t" style="left:440.35px;top:713.7px;font-size:7px;color:#383838;transform:scaleX(1.0);transform-origin:0 0;">2.12</div>
<div class="r" style="left:431.7px;top:722.32px;width:35.98px;height:7px;background:#A9D18E"></div>
<div class="t" style="left:470.68px;top:722.35px;font-size:7px;color:#383838;transform:scaleX(1.0);transform-origin:0 0;">13.5</div>
<div class="r" style="left:431.7px;top:730.97px;width:10.61px;height:7px;background:#548235"></div>
<div class="t" style="left:445.31px;top:731px;font-size:7px;color:#383838;transform:scaleX(1.0);transform-origin:0 0;">3.98</div>
<div class="t" style="right:263px;top:751.27px;font-size:8.8px;color:#383838;text-align:right;">Newspaper</div>
<div class="r" style="left:431.7px;top:743.96px;width:12.42px;height:7px;background:#E2F0D9"></div>
<div class="t" style="left:447.12px;top:743.99px;font-size:7px;color:#383838;transform:scaleX(1.0);transform-origin:0 0;">4.66</div>
<div class="r" style="left:431.7px;top:752.61px;width:15.8px;height:7px;background:#A9D18E"></div>
<div class="t" style="left:450.5px;top:752.64px;font-size:7px;color:#383838;transform:scaleX(1.0);transform-origin:0 0;">5.93</div>
<div class="r" style="left:431.7px;top:761.26px;width:16.04px;height:7px;background:#548235"></div>
<div class="t" style="left:450.74px;top:761.29px;font-size:7px;color:#383838;transform:scaleX(1.0);transform-origin:0 0;">6.02</div>
<div class="t" style="right:263px;top:781.56px;font-size:8.8px;color:#383838;text-align:right;">Other</div>
<div class="r" style="left:431.7px;top:774.25px;width:11.3px;height:7px;background:#E2F0D9"></div>
<div class="t" style="left:446px;top:774.28px;font-size:7px;color:#383838;transform:scaleX(1.0);transform-origin:0 0;">4.24</div>
<div class="r" style="left:431.7px;top:782.9px;width:4.77px;height:7px;background:#A9D18E"></div>
<div class="t" style="left:439.47px;top:782.93px;font-size:7px;color:#383838;transform:scaleX(1.0);transform-origin:0 0;">1.79</div>
<div class="r" style="left:431.7px;top:791.55px;width:8.13px;height:7px;background:#548235"></div>
<div class="t" style="left:442.83px;top:791.58px;font-size:7px;color:#383838;transform:scaleX(1.0);transform-origin:0 0;">3.05</div>
<div class="t" style="right:263px;top:811.85px;font-size:8.8px;color:#383838;text-align:right;">Radio</div>
<div class="r" style="left:431.7px;top:804.54px;width:1.12px;height:7px;background:#E2F0D9"></div>
<div class="t" style="left:435.82px;top:804.57px;font-size:7px;color:#383838;transform:scaleX(1.0);transform-origin:0 0;">0.42</div>
<div class="r" style="left:431.7px;top:813.19px;width:0.19px;height:7px;background:#A9D18E"></div>
<div class="t" style="left:434.89px;top:813.22px;font-size:7px;color:#383838;transform:scaleX(1.0);transform-origin:0 0;">0.07</div>
<div class="r" style="left:431.7px;top:821.84px;width:1.12px;height:7px;background:#548235"></div>
<div class="t" style="left:435.82px;top:821.87px;font-size:7px;color:#383838;transform:scaleX(1.0);transform-origin:0 0;">0.42</div>
<div class="t" style="right:263px;top:842.14px;font-size:8.8px;color:#383838;text-align:right;">Social Media</div>
<div class="r" style="left:431.7px;top:834.83px;width:1.12px;height:7px;background:#E2F0D9"></div>
<div class="t" style="left:435.82px;top:834.86px;font-size:7px;color:#383838;transform:scaleX(1.0);transform-origin:0 0;">0.42</div>
<div class="r" style="left:431.7px;top:843.48px;width:0.19px;height:7px;background:#A9D18E"></div>
<div class="t" style="left:434.89px;top:843.51px;font-size:7px;color:#383838;transform:scaleX(1.0);transform-origin:0 0;">0.07</div>
<div class="r" style="left:431.7px;top:852.13px;width:0.37px;height:7px;background:#548235"></div>
<div class="t" style="left:435.07px;top:852.16px;font-size:7px;color:#383838;transform:scaleX(1.0);transform-origin:0 0;">0.14</div>
<div class="r" style="left:602px;top:681.8px;width:6.6px;height:6.6px;background:#E2F0D9"></div>
<div class="t" style="left:611.6px;top:680.08px;font-size:9.8px;color:#383838;">Other</div>
<div class="r" style="left:602px;top:698.2px;width:6.6px;height:6.6px;background:#A9D18E"></div>
<div class="t" style="left:611.6px;top:696.28px;font-size:9.8px;color:#383838;">Muslim</div>
<div class="r" style="left:602px;top:715px;width:6.6px;height:6.6px;background:#548235"></div>
<div class="t" style="left:611.6px;top:712.98px;font-size:9.8px;color:#383838;">Hindu</div>
<div class="t" style="left:154.5px;top:175.51px;font-size:26.5px;font-family:'Liberation Serif', serif;font-weight:bold;color:#000;">Age</div>
<div class="t" style="left:136.4px;top:576.22px;font-size:26.6px;font-family:'Liberation Serif', serif;font-weight:bold;color:#000;">Education</div>
<div class="t" style="left:508.6px;top:19.29px;font-size:26.4px;font-family:'Liberation Serif', serif;font-weight:bold;color:#000;transform:scaleY(1.075);transform-origin:0 22.11px;">Sex</div>
<div class="t" style="left:500.2px;top:276.72px;font-size:26.6px;font-family:'Liberation Serif', serif;font-weight:bold;color:#000;">Income</div>
<div class="t" style="left:501px;top:581.29px;font-size:26.4px;font-family:'Liberation Serif', serif;font-weight:bold;color:#000;">Religion</div>
<svg class="r" style="left:0;top:0" width="685" height="884" viewBox="0 0 685 884">
<defs>
<clipPath id="cc"><rect x="390" y="0" width="27.6" height="40"/></clipPath>
<clipPath id="ce"><rect x="385" y="565" width="29.4" height="40"/></clipPath>
</defs>
<g fill="none" stroke="#000" stroke-linecap="butt">
<path d="M55.9 159.7 C58.9 158.6 61.5 157.2 64.5 157.2 C70 157.2 72.55 159.5 72.55 164.5" stroke-width="5.6"/>
<ellipse cx="62.1" cy="587.65" rx="8.4" ry="10.6" stroke-width="6.6"/>
<path clip-path="url(#cc)" d="M421 10.8 C418 7.4 414 6.2 409.8 6.2 C404.5 6.2 401.3 10.5 401.3 16.5 C401.3 22.6 404.5 26.9 409.8 26.9 C414 26.9 418 25.5 421 22.5" stroke-width="6.2"/>
<ellipse cx="406.7" cy="283.4" rx="8.6" ry="10.3" stroke-width="6.6"/>
<path clip-path="url(#ce)" d="M411.2 585.2 C411.2 579 407.5 574.65 402.9 574.65 C397.5 574.65 394.6 579.5 394.6 585.5 C394.6 592 398 596.4 403.5 596.4 C408 596.4 412 595.4 416.5 592.6" stroke-width="6.0"/>
</g>
<g fill="#000">
<path fill-rule="evenodd" d="M70 165.1 L61.5 165.1 C57 165.1 54.2 168.5 54.2 173 C54.2 177.8 57.5 181.2 61.8 181.2 C65.5 181.2 68 180 70 177.8 Z M60.7 173.3 A4.3 3.4 0 1 0 69.3 173.3 A4.3 3.4 0 1 0 60.7 173.3 Z"/>
<rect x="69.3" y="163" width="6.05" height="17.8"/>
<rect x="50" y="563.6" width="6.9" height="36.9"/>
<rect x="412" y="259.5" width="6.6" height="36.9"/>
<rect x="394" y="582.9" width="20.3" height="4"/>
</g>
</svg>
</div></body></html>
